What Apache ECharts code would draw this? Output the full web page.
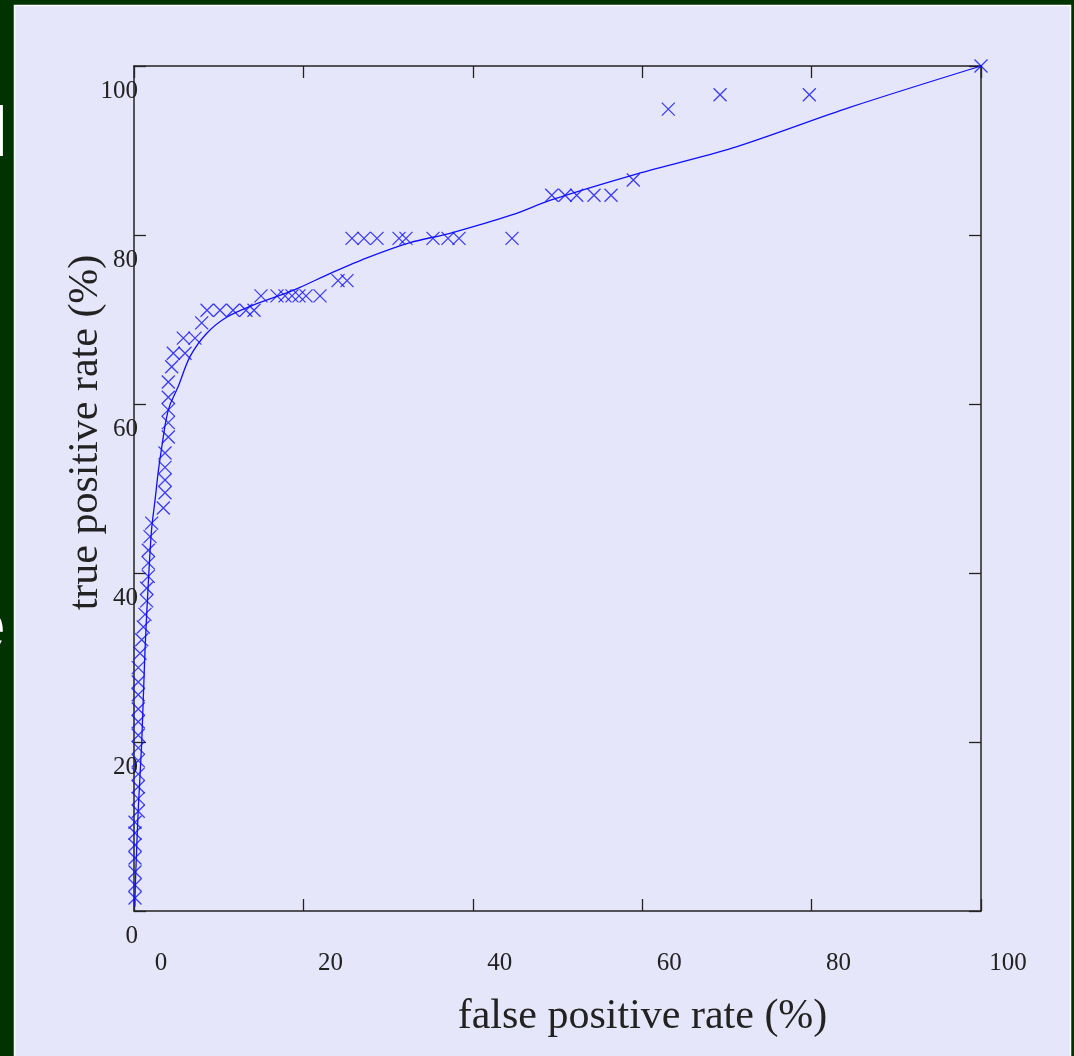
<!DOCTYPE html>
<html>
<head>
<meta charset="utf-8">
<script src="https://cdn.jsdelivr.net/npm/echarts@6/dist/echarts.min.js"></script>
<style>
html,body{margin:0;padding:0;background:#003300;}
#chart{width:1074px;height:1056px;}
</style>
</head>
<body>
<div id="chart"></div>
<script>
// ROC points (false positive rate %, true positive rate %)
const fprPoints = [
  0.12,0.12,0.12,0.12,0.12,0.12,0.12,
  0.5,0.5,0.5,0.5,0.5,0.5,0.5,0.5,0.5,0.5,0.5,0.5,
  0.71,0.91,1.10,1.30,1.50,1.50,1.69,1.69,1.69,1.89,2.09,
  3.46,3.66,3.66,3.66,3.66,4.05,4.05,4.05,4.05,4.05,4.45,
  4.64,6.02,5.82,7.20,7.99,
  8.62,10.15,11.69,13.22,14.17,
  14.99,16.88,17.83,18.65,19.48,20.31,21.96,
  24.09,25.15,
  25.74,27.15,28.69,31.29,32.11,35.30,37.07,38.37,44.63,
  49.32,50.89,52.27,54.31,56.32,
  58.95,63.08,69.19,79.73,100
];
const tprPoints = [
  1.54,3.08,4.62,6.27,7.81,9.23,10.5,
  11.8,13.3,14.7,16.2,17.8,19.3,20.8,22.4,23.9,25.6,27.1,28.8,
  30.5,32.1,33.6,35.1,36.7,38.2,39.6,41.2,42.7,44.3,45.9,
  47.7,49.5,51.0,52.5,54.2,56.1,57.8,59.3,60.8,62.6,64.4,
  66.0,66.0,67.8,67.8,69.6,
  71.1,71.1,71.1,71.1,71.1,
  72.8,72.8,72.8,72.8,72.8,72.8,72.8,
  74.6,74.6,
  79.6,79.6,79.6,79.6,79.6,79.6,79.6,79.6,79.6,
  84.7,84.7,84.7,84.7,84.7,
  86.5,94.9,96.6,96.6,100
];
// fitted (smoothed) curve
const fitX = [0.1,0.18,0.5,0.91,1.3,1.71,2.07,2.48,2.89,3.31,3.78,4.25,5.19,6.61,8.62,10.98,14.05,18.42,19.6,23.5,27.5,32.6,37.3,44.7,49.1,58.9,70.7,84.5,100];
const fitY = [0.5,3.7,12.0,19.9,30.9,39.2,45.1,48.6,52.2,55.1,58.1,59.9,62.0,65.6,68.4,70.3,71.7,73.3,73.8,75.6,77.3,79.1,80.2,82.4,84.1,87.1,90.3,95.1,100];
const axisTicks = [0,20,40,60,80,100];
const xTitle = 'false positive rate (%)';
const yTitle = 'true positive rate (%)';

const scatterData = fprPoints.map((x,i)=>[x,tprPoints[i]]);
const fitData = fitX.map((x,i)=>[x,fitY[i]]);

const serif = '"Liberation Serif","Times New Roman",serif';
const axisColor = '#222';
const blue = '#1010ff';

const chart = echarts.init(document.getElementById('chart'), null, {renderer:'canvas'});
const baseAxis = {
  type:'value', min:axisTicks[0], max:axisTicks[axisTicks.length-1], interval:20,
  axisLine:{show:true, onZero:false, lineStyle:{color:axisColor, width:1.5}},
  axisTick:{show:true, inside:true, length:12, lineStyle:{color:axisColor, width:1.3}},
  splitLine:{show:false}
};
chart.setOption({
  backgroundColor:'#003300',
  animation:false,
  graphic:[
    {type:'rect', z:-10, silent:true, shape:{x:14.5,y:5.5,width:1056,height:1100},
     style:{fill:'#e6e6fa', stroke:'#ffffff', lineWidth:1.5}},
    {type:'text', z:-5, silent:true, left:-8, top:102, style:{text:'l', fill:'#ffffff', font:'70px "Liberation Sans", sans-serif'}},
    {type:'text', z:-5, silent:true, left:-33, top:595, style:{text:'e', fill:'#ffffff', font:'70px "Liberation Sans", sans-serif'}}
  ],
  grid:{left:134, top:66, right:93, bottom:145, containLabel:false, outerBoundsMode:'none'},
  xAxis:[
    Object.assign({}, baseAxis, {
      position:'bottom',
      name:xTitle, nameLocation:'middle', nameGap:85, nameMoveOverlap:false,
      nameTextStyle:{fontFamily:serif, fontSize:42, color:axisColor, padding:[0,0,0,170]},
      axisLabel:{show:true, margin:40, fontFamily:serif, fontSize:25, color:axisColor, padding:[0,0,0,54],
        showMinLabel:true, showMaxLabel:true}
    }),
    Object.assign({}, baseAxis, {position:'top', axisLabel:{show:false}})
  ],
  yAxis:[
    Object.assign({}, baseAxis, {
      position:'left',
      name:yTitle, nameLocation:'middle', nameGap:27, nameMoveOverlap:false,
      nameTextStyle:{fontFamily:serif, fontSize:42, color:axisColor, padding:[0,0,0,112]},
      axisLabel:{show:true, margin:-4, fontFamily:serif, fontSize:25, lineHeight:25, color:axisColor,
        verticalAlign:'middle', formatter:function(v){return '\n\n' + v;},
        showMinLabel:true, showMaxLabel:true}
    }),
    Object.assign({}, baseAxis, {position:'right', axisLabel:{show:false}})
  ],
  series:[
    {type:'line', data:fitData, showSymbol:false, smooth:0.3, clip:false,
     lineStyle:{color:blue, width:1.3}, z:3},
    {type:'scatter', data:scatterData, symbol:'path://M0,0L10,10M10,0L0,10', symbolSize:13, clip:false,
     itemStyle:{color:'rgba(0,0,0,0)', borderColor:blue, borderWidth:1.3}, z:4}
  ]
});
</script>
</body>
</html>
